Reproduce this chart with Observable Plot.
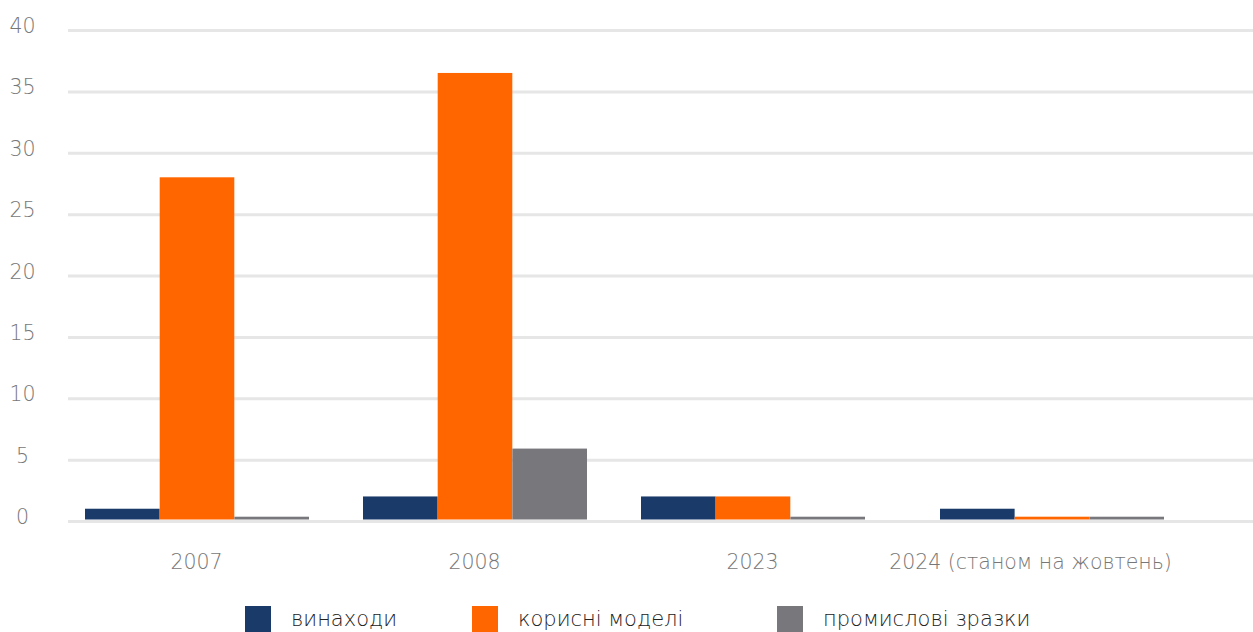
<!DOCTYPE html>
<html>
<head>
<meta charset="utf-8">
<script src="https://cdn.jsdelivr.net/npm/d3@7"></script>
<script src="https://cdn.jsdelivr.net/npm/@observablehq/plot@0.6"></script>
<style>
  html, body { margin: 0; padding: 0; background: #fff; }
  body { width: 1253px; height: 632px; overflow: hidden; font-family: "DejaVu Sans", sans-serif; }
  #legend { position: relative; height: 42px; }
  .item { position: absolute; top: 16px; display: flex; align-items: center; font-size: 21px; font-weight: 200; color: #222; }
  .sw { width: 26px; height: 26px; margin-right: 20px; }
</style>
</head>
<body>
<div id="chart"></div>
<div id="legend"></div>
<script>
const categories = ["2007", "2008", "2023", "2024 (станом на жовтень)"];
const seriesNames = ["винаходи", "корисні моделі", "промислові зразки"];
const inventions = [1, 2, 2, 1];
const utilityModels = [28, 36.5, 2, 0.35];
const industrialDesigns = [0.35, 5.9, 0.35, 0.35];
const colors = ["#1a3a6a", "#ff6600", "#78777c"];
const yTicks = [0, 5, 10, 15, 20, 25, 30, 35, 40];

const seriesValues = [inventions, utilityModels, industrialDesigns];
const rows = [];
seriesValues.forEach((vals, si) => vals.forEach((v, ci) => rows.push({cat: categories[ci], series: seriesNames[si], si, value: v})));

const pIn = 0.194, pOut = 0.097;
const xRange = [58, 1170];
const step = (xRange[1] - xRange[0]) / (categories.length - pIn + 2 * pOut);
const third = step * (1 - pIn) / 3;
const last = categories[categories.length - 1];

const barMarks = [];
seriesNames.forEach((s, si) => {
  [false, true].forEach(isLast => {
    barMarks.push(Plot.barY(rows.filter(d => d.si === si && (d.cat === last) === isLast), {
      x: "cat", y: "value", fill: colors[si],
      insetLeft: si * third, insetRight: (2 - si) * third,
      insetBottom: 1.5,
      dx: isLast ? 21 : 0
    }));
  });
});

const chart = Plot.plot({
  width: 1253,
  height: 590,
  marginLeft: 68,
  marginRight: 0,
  marginTop: 30,
  marginBottom: 69,
  style: {fontFamily: "DejaVu Sans, sans-serif", fontSize: "20.5px", fontWeight: 200, color: "#777", background: "#fff"},
  x: {domain: categories, range: xRange, paddingInner: pIn, paddingOuter: pOut, axis: null},
  y: {domain: [0, 40], axis: null},
  marks: [
    Plot.ruleY(yTicks, {stroke: "#e6e6e6", strokeWidth: 3}),
    ...barMarks,
    Plot.axisY({ticks: yTicks, tickSize: 0, tickPadding: 46, textAnchor: "middle", dy: -4, fill: "#777", label: null}),
    Plot.axisX({tickSize: 0, tickPadding: 33, fill: "#777", tickFormat: d => d, label: null, dx: -1})
  ]
});
document.getElementById("chart").appendChild(chart);

const legend = document.getElementById("legend");
const lefts = [245, 472, 777];
seriesNames.forEach((s, i) => {
  const it = document.createElement("div");
  it.className = "item";
  it.style.left = lefts[i] + "px";
  const sw = document.createElement("div");
  sw.className = "sw";
  sw.style.background = colors[i];
  const t = document.createElement("span");
  t.textContent = s;
  it.appendChild(sw); it.appendChild(t);
  legend.appendChild(it);
});
</script>
</body>
</html>
